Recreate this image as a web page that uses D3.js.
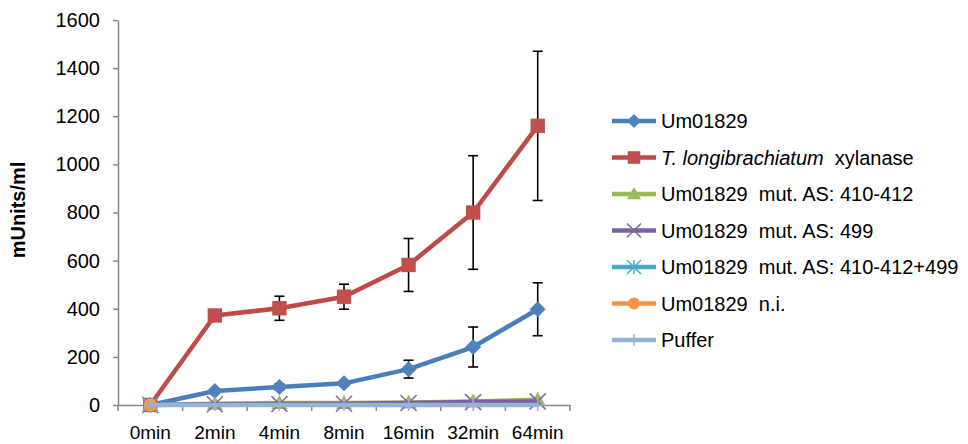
<!DOCTYPE html>
<html>
<head>
<meta charset="utf-8">
<script src="https://cdn.jsdelivr.net/npm/d3@7"></script>
<style>
  body { margin: 0; background: #fff; }
  svg text { font-family: "Liberation Sans", Arial, sans-serif; white-space: pre; }
</style>
</head>
<body>
<svg id="chart" width="968" height="444"></svg>
<script>
// data
var categories = ["0min", "2min", "4min", "8min", "16min", "32min", "64min"];
var yTicks = [0, 200, 400, 600, 800, 1000, 1200, 1400, 1600];

var um01829 = [0, 58, 75, 90, 149, 241, 398];
var um01829Err = [0, 8, 12, 10, 37, 83, 110];
var xylanase = [0, 372, 402, 450, 582, 800, 1160];
var xylanaseErr = [0, 10, 50, 52, 110, 236, 310];
var mut410 = [0, 5, 8, 8, 10, 15, 22];
var mut499 = [0, 3, 4, 5, 8, 12, 15];
var mutBoth = [0, null, null, null, null, null, null];
var notInduced = [0, null, null, null, null, null, null];
var puffer = [0, 0, 0, 0, 0, 0, 0];

var series = [
  {name: "Um01829", values: um01829, err: um01829Err, line: "#4A7EBB", fill: "#4F81BD", marker: "diamond"},
  {name: "xylanase", italic: "T. longibrachiatum", values: xylanase, err: xylanaseErr, line: "#BE4B48", fill: "#C0504D", marker: "square"},
  {name: "Um01829  mut. AS: 410-412", values: mut410, line: "#98B954", fill: "#9BBB59", marker: "triangle"},
  {name: "Um01829  mut. AS: 499", values: mut499, line: "#7D60A0", fill: "#8064A2", marker: "x"},
  {name: "Um01829  mut. AS: 410-412+499", values: mutBoth, line: "#46AAC5", fill: "#4BACC6", marker: "star"},
  {name: "Um01829  n.i.", values: notInduced, line: "#F69240", fill: "#F79646", marker: "circle"},
  {name: "Puffer", values: puffer, line: "#95B3D7", fill: "#95B3D7", marker: "plus"}
];

var svg = d3.select("#chart");
var axisColor = "#868686";

var x = d3.scaleBand().domain(categories).range([118, 570]).paddingInner(0).paddingOuter(0);
var y = d3.scaleLinear().domain([0, 1600]).range([405, 20]);
var cx = function(i) { return x(categories[i]) + x.bandwidth() / 2; };

function markerPath(type, s) {
  var p = d3.path();
  if (type == "diamond") {
    p.moveTo(0, -s); p.lineTo(s, 0); p.lineTo(0, s); p.lineTo(-s, 0); p.closePath();
  } else if (type == "square") {
    p.rect(-s * 0.9, -s * 0.9, s * 1.8, s * 1.8);
  } else if (type == "triangle") {
    p.moveTo(0, -s); p.lineTo(s, s * 0.75); p.lineTo(-s, s * 0.75); p.closePath();
  } else if (type == "circle") {
    p.arc(0, 0, s * 0.85, 0, Math.PI * 2);
  } else if (type == "x") {
    p.moveTo(-s, -s); p.lineTo(s, s); p.moveTo(s, -s); p.lineTo(-s, s);
  } else if (type == "star") {
    p.moveTo(-s, -s); p.lineTo(s, s); p.moveTo(s, -s); p.lineTo(-s, s);
    p.moveTo(0, -s); p.lineTo(0, s);
  } else if (type == "plus") {
    p.moveTo(0, -s); p.lineTo(0, s); p.moveTo(-s, 0); p.lineTo(s, 0);
  }
  return p.toString();
}
var stroked = {x: true, star: true, plus: true};

// axes
var yAxis = d3.axisLeft(y).tickValues(yTicks).tickFormat(d3.format("d"))
  .tickSize(5).tickSizeOuter(0).tickPadding(13);
var gy = svg.append("g").attr("transform", "translate(118,0)").call(yAxis);
gy.select(".domain").attr("stroke", axisColor).attr("stroke-width", 1.5);
gy.selectAll(".tick line").attr("stroke", axisColor).attr("stroke-width", 1.5);
gy.selectAll(".tick text").attr("font-size", "20px").attr("fill", "#000")
  .style("font-family", "'Liberation Sans', Arial, sans-serif");

var xAxis = d3.axisBottom(x).tickSize(0).tickSizeOuter(0).tickPadding(21);
var gx = svg.append("g").attr("transform", "translate(0,405)").call(xAxis);
gx.select(".domain").attr("stroke", axisColor).attr("stroke-width", 1.5);
gx.selectAll(".tick text").attr("font-size", "19px").attr("fill", "#000")
  .style("font-family", "'Liberation Sans', Arial, sans-serif");

// tick marks on category boundaries
var bounds = categories.map(function(c) { return x(c); }).concat([x.range()[1]]);
gx.selectAll(".bound").data(bounds).enter().append("line")
  .attr("x1", function(d) { return d; }).attr("x2", function(d) { return d; })
  .attr("y1", 0).attr("y2", 6)
  .attr("stroke", axisColor).attr("stroke-width", 1.5);

svg.append("text")
  .attr("transform", "translate(25,210) rotate(-90)")
  .attr("text-anchor", "middle")
  .attr("font-size", "20px").attr("font-weight", "bold")
  .text("mUnits/ml");

// series
var line = d3.line()
  .defined(function(d) { return d != null; })
  .x(function(d, i) { return cx(i); })
  .y(function(d) { return y(d); });

series.forEach(function(s) {
  var g = svg.append("g");

  if (s.err) {
    var eb = g.selectAll(".err").data(s.values).enter().append("g");
    eb.append("line")
      .attr("x1", function(d, i) { return cx(i); }).attr("x2", function(d, i) { return cx(i); })
      .attr("y1", function(d, i) { return y(d + s.err[i]); })
      .attr("y2", function(d, i) { return y(d - s.err[i]); });
    eb.append("line")
      .attr("x1", function(d, i) { return cx(i) - 5; }).attr("x2", function(d, i) { return cx(i) + 5; })
      .attr("y1", function(d, i) { return y(d + s.err[i]); })
      .attr("y2", function(d, i) { return y(d + s.err[i]); });
    eb.append("line")
      .attr("x1", function(d, i) { return cx(i) - 5; }).attr("x2", function(d, i) { return cx(i) + 5; })
      .attr("y1", function(d, i) { return y(d - s.err[i]); })
      .attr("y2", function(d, i) { return y(d - s.err[i]); });
    eb.selectAll("line").attr("stroke", "#000").attr("stroke-width", 1.6);
  }

  g.append("path")
    .attr("d", line(s.values))
    .attr("fill", "none")
    .attr("stroke", s.line)
    .attr("stroke-width", 4.5)
    .attr("stroke-linejoin", "round");

  var pts = s.values.map(function(d, i) { return {v: d, i: i}; }).filter(function(d) { return d.v != null; });
  g.selectAll(".pt").data(pts).enter().append("path")
    .attr("transform", function(d) { return "translate(" + cx(d.i) + "," + y(d.v) + ")"; })
    .attr("d", markerPath(s.marker, s.marker == "plus" ? 6 : 8))
    .attr("fill", stroked[s.marker] ? "none" : s.fill)
    .attr("stroke", stroked[s.marker] ? s.fill : "none")
    .attr("stroke-width", stroked[s.marker] ? 1.5 : 0);
});

// legend
var legend = svg.append("g");
series.forEach(function(s, k) {
  var ly = 121 + k * 36.5;
  legend.append("line")
    .attr("x1", 612).attr("x2", 656).attr("y1", ly).attr("y2", ly)
    .attr("stroke", s.line).attr("stroke-width", 4.5);
  legend.append("path")
    .attr("transform", "translate(634," + ly + ")")
    .attr("d", markerPath(s.marker, s.marker == "plus" ? 6 : 7))
    .attr("fill", stroked[s.marker] ? "none" : s.fill)
    .attr("stroke", stroked[s.marker] ? s.fill : "none")
    .attr("stroke-width", stroked[s.marker] ? 1.5 : 0);
  var t = legend.append("text")
    .attr("x", 661).attr("y", ly + 7)
    .attr("font-size", "20px").attr("fill", "#000");
  if (s.italic) {
    t.append("tspan").attr("font-style", "italic").text(s.italic);
    t.append("tspan").text("  " + s.name);
  } else {
    t.text(s.name);
  }
});
</script>
</body>
</html>
